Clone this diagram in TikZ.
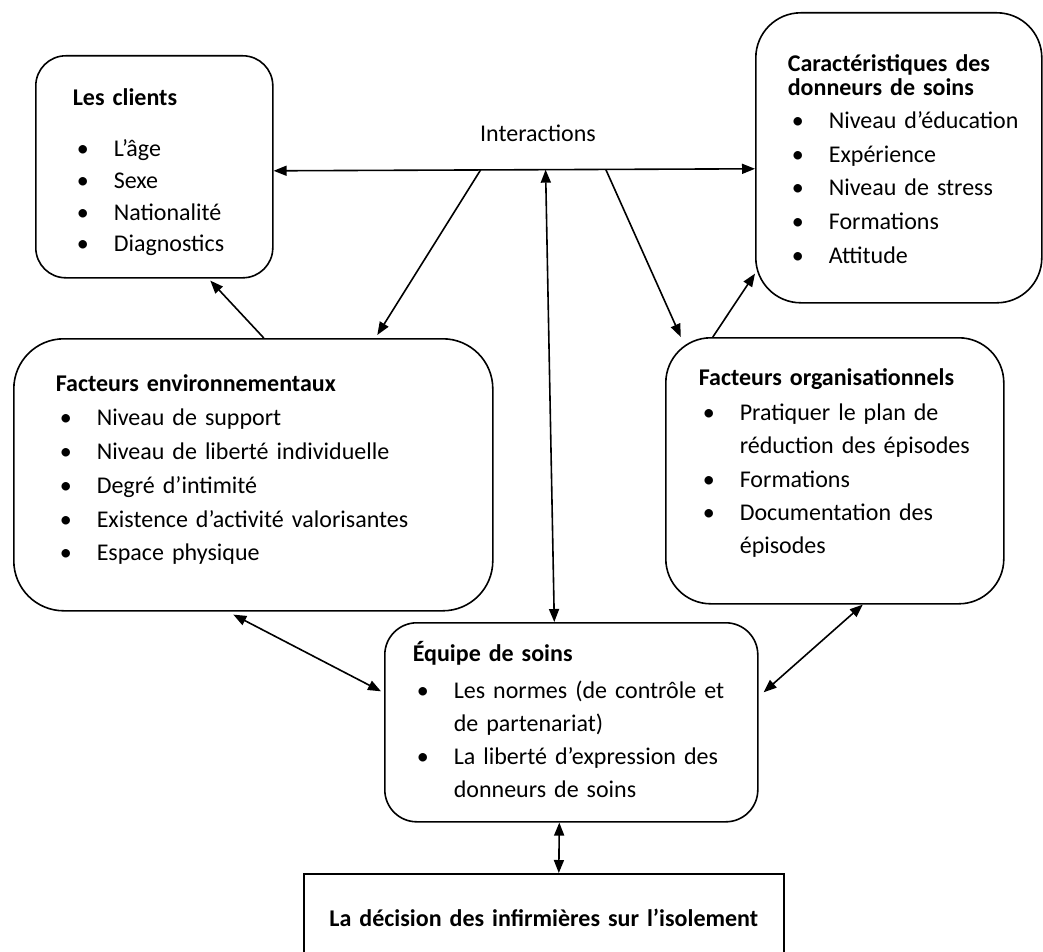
\documentclass[tikz,border=0pt]{standalone}
\usepackage{fontspec}
\setmainfont{Carlito}
\usepackage{tikz}
\usetikzlibrary{arrows.meta, calc}

\newcommand{\bul}[1]{\mbox{\hspace*{4pt}\makebox[37pt][l]{•}#1}}
\newcommand{\bulcont}[1]{\mbox{\hspace*{41pt}#1}}

\begin{document}
\begin{tikzpicture}[x=1pt, y=-1pt,
    every node/.style={font=\fontsize{24}{33.8}\selectfont},
    box/.style={draw, line width=1.6pt, rounded corners=#1, align=left, anchor=north west, inner ysep=0pt},
    link/.style={line width=1.6pt, -{Triangle[length=13pt,width=10pt]}},
    twoway/.style={line width=1.6pt, {Triangle[length=13pt,width=10pt]}-{Triangle[length=13pt,width=10pt]}}]
    \useasboundingbox (0,0) rectangle (1043,952);

    % Draw the boxes
    \node[box=30pt, inner xsep=37pt, text width=163pt, text height=50pt, text depth=172pt] (clients) at (35,55)
        {\textbf{Les clients}\\[17pt]
         \bul{L’âge}\\[-2pt] \bul{Sexe}\\[-2pt] \bul{Nationalité}\\[-2pt] \bul{Diagnostics}};
    \node[box=45pt, inner xsep=32pt, text width=222pt, text height=59pt, text depth=231pt] (caract) at (755,12)
        {\textbf{Caractéristiques des}\\[-10pt]
         \textbf{donneurs de soins}\\[-1pt]
         \bul{Niveau d’éducation}\\ \bul{Expérience}\\ \bul{Niveau de stress}\\ \bul{Formations}\\ \bul{Attitude}};
    \node[box=50pt, inner xsep=42pt, text width=395pt, text height=53pt, text depth=219pt] (env) at (13,338)
        {\textbf{Facteurs environnementaux}\\
         \bul{Niveau de support}\\ \bul{Niveau de liberté individuelle}\\ \bul{Degré d’intimité}\\
         \bul{Existence d’activité valorisantes}\\ \bul{Espace physique}};
    \node[box=45pt, inner xsep=33pt, text width=272pt, text height=48pt, text depth=218pt] (org) at (665,337)
        {\textbf{Facteurs organisationnels}\\[1pt]
         \bul{Pratiquer le plan de}\\[-0.5pt] \bulcont{réduction des épisodes}\\[-0.5pt] \bul{Formations}\\[-0.5pt]
         \bul{Documentation des}\\[-0.5pt] \bulcont{épisodes}};
    \node[box=32pt, inner xsep=28pt, text width=317pt, text height=39pt, text depth=160pt] (equipe) at (384,622)
        {\textbf{Équipe de soins}\\[3pt]
         \bul{Les normes (de contrôle et}\\[-1pt] \bulcont{de partenariat)}\\[-1pt]
         \bul{La liberté d’expression des}\\[-1pt] \bulcont{donneurs de soins}};
    \node[draw, line width=1.6pt, align=center, anchor=north west, inner sep=0pt, text width=480pt,
          text height=53pt, text depth=37pt] (decision) at (303,873)
        {\textbf{La décision des infirmières sur l’isolement}};

    % Interactions line between clients and care givers
    \node (inter) at (538,133) {Interactions};
    \coordinate (hubL) at ([yshift=-4pt]clients.east);
    \coordinate (hubR) at ([yshift=-11pt]caract.west);
    \draw[twoway] (hubL) -- (hubR);
    \coordinate (i1) at ($(hubL)!0.43!(hubR)$);
    \coordinate (i2) at ($(hubL)!0.69!(hubR)$);
    \coordinate (i3) at ($(hubL)!0.565!(hubR)$);

    % Connect the boxes
    \draw[link] (i1) -- ([xshift=124pt,yshift=3pt]env.north);
    \draw[link] (i2) -- ([xshift=-154pt]org.north);
    \draw[twoway] (i3) -- ([xshift=-17pt]equipe.north);
    \draw[link] ([xshift=10.5pt]env.north) -- ([xshift=56pt,yshift=-2pt]clients.south);
    \draw[link] ([xshift=-122pt]org.north) -- ([yshift=30pt]caract.south west);
    \draw[twoway] ([xshift=-20pt,yshift=-3pt]env.south) -- ([xshift=-3pt,yshift=31pt]equipe.west);
    \draw[twoway] ([xshift=28pt]org.south) -- ([xshift=5pt,yshift=30pt]equipe.east);
    \draw[twoway] ([xshift=-12pt]equipe.south) -- ([xshift=15pt]decision.north);
\end{tikzpicture}
\end{document}
